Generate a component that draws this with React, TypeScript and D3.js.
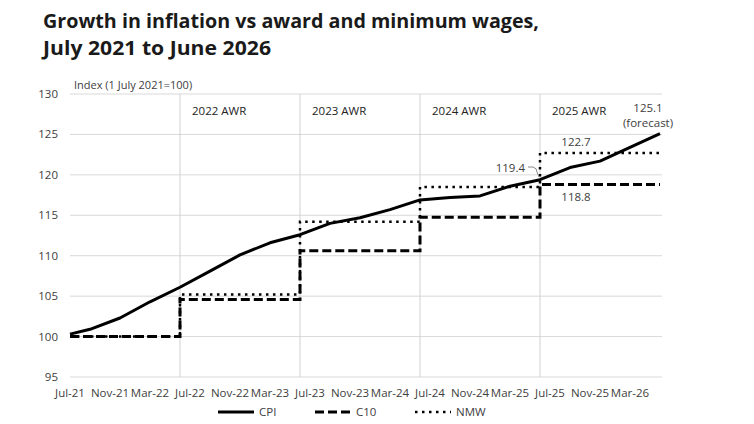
import * as d3 from "d3";

// months are counted from Jul-21 (0) to Jun-26 (59)
const cpiMonths = [0, 2, 5, 8, 11, 14, 17, 20, 23, 26, 29, 32, 35, 38, 41, 44, 47, 50, 53, 56, 59];
const cpiValues = [100.3, 100.9, 102.3, 104.3, 106.1, 108.1, 110.1, 111.6, 112.6, 114.0, 114.7, 115.7, 116.9, 117.2, 117.4, 118.6, 119.4, 120.9, 121.7, 123.4, 125.1];

const stepMonths = [0, 11, 23, 35, 47, 59];
const c10Values = [100, 104.6, 110.6, 114.75, 118.8, 118.8];
const nmwValues = [100, 105.2, 114.2, 118.5, 122.7, 122.7];

const awrMonths = [11, 23, 35, 47];
const awrLabels = ["2022 AWR", "2023 AWR", "2024 AWR", "2025 AWR"];

const tickMonths = [0, 4, 8, 12, 16, 20, 24, 28, 32, 36, 40, 44, 48, 52, 56];
const tickLabels = ["Jul-21", "Nov-21", "Mar-22", "Jul-22", "Nov-22", "Mar-23", "Jul-23", "Nov-23", "Mar-24", "Jul-24", "Nov-24", "Mar-25", "Jul-25", "Nov-25", "Mar-26"];
const yTicks = [95, 100, 105, 110, 115, 120, 125, 130];

const font = "'Open Sans', sans-serif";
const textColor = "#404040";

export default function App() {
  const width = 754;
  const height = 424;
  const x = d3.scaleLinear().domain([0, 59]).range([70, 660]);
  const y = d3.scaleLinear().domain([95, 130]).range([377, 94]);

  const cpiLine = d3
    .line<number>()
    .x((_, i) => x(cpiMonths[i]))
    .y((d) => y(d));

  const stepLine = d3
    .line<number>()
    .x((_, i) => x(stepMonths[i]))
    .y((d) => y(d))
    .curve(d3.curveStepAfter);

  const legend = [
    { label: "CPI", x0: 218, dash: "none" },
    { label: "C10", x0: 315, dash: "9,4" },
    { label: "NMW", x0: 415, dash: "2.5,4.5" },
  ];

  return (
    <svg
      width={width}
      height={height}
      style={{ position: "absolute", left: 0, top: 0, background: "#fff" }}
      fontFamily={font}
    >
      <text x={43} y={28} fontSize={19} fontWeight={700} fill="#1a1a1a" textLength={496} lengthAdjust="spacingAndGlyphs">
        Growth in inflation vs award and minimum wages,
      </text>
      <text x={43} y={55} fontSize={19} fontWeight={700} fill="#1a1a1a" textLength={228} lengthAdjust="spacingAndGlyphs">
        July 2021 to June 2026
      </text>

      <text x={74} y={89} fontSize={11} fill={textColor}>
        Index (1 July 2021=100)
      </text>

      {yTicks.map((t) => (
        <g key={t}>
          <line x1={70} x2={662} y1={y(t)} y2={y(t)} stroke="#d9d9d9" strokeWidth={1} />
          <text x={58} y={y(t)} dy="0.35em" textAnchor="end" fontSize={11.5} fill={textColor}>
            {t}
          </text>
        </g>
      ))}

      {awrMonths.map((m, i) => (
        <g key={m}>
          <line x1={x(m)} x2={x(m)} y1={y(130)} y2={y(95)} stroke="#d0d0d0" strokeWidth={1} />
          <text x={x(m) + 12} y={111} dy="0.35em" fontSize={11.5} fill="#222">
            {awrLabels[i]}
          </text>
        </g>
      ))}

      {tickMonths.map((m, i) => (
        <text key={m} x={x(m)} y={393} dy="0.35em" textAnchor="middle" fontSize={11.5} fill={textColor}>
          {tickLabels[i]}
        </text>
      ))}

      <path d={stepLine(nmwValues) ?? ""} fill="none" stroke="#000" strokeWidth={2.5} strokeDasharray="2.5,4.5" />
      <path d={stepLine(c10Values) ?? ""} fill="none" stroke="#000" strokeWidth={3} strokeDasharray="9,4" />
      <path d={cpiLine(cpiValues) ?? ""} fill="none" stroke="#000" strokeWidth={3} strokeLinejoin="round" />

      <text x={648} y={108} dy="0.35em" textAnchor="middle" fontSize={11.5} fill={textColor}>125.1</text>
      <text x={648} y={123} dy="0.35em" textAnchor="middle" fontSize={11.5} fill={textColor}>(forecast)</text>
      <text x={576} y={142} dy="0.35em" textAnchor="middle" fontSize={11.5} fill={textColor}>122.7</text>
      <text x={525} y={168} dy="0.35em" textAnchor="end" fontSize={11.5} fill={textColor}>119.4</text>
      <text x={576} y={197} dy="0.35em" textAnchor="middle" fontSize={11.5} fill={textColor}>118.8</text>
      <path d="M528,167 L533,167 Q537,168 537,172 L539,177" fill="none" stroke="#888" strokeWidth={1} />

      {legend.map((l) => (
        <g key={l.label}>
          <line
            x1={l.x0}
            x2={l.x0 + 36}
            y1={412}
            y2={412}
            stroke="#000"
            strokeWidth={l.label === "NMW" ? 2.5 : 3}
            strokeDasharray={l.dash}
          />
          <text x={l.x0 + 41} y={412} dy="0.35em" fontSize={11.5} fill={textColor}>
            {l.label}
          </text>
        </g>
      ))}
    </svg>
  );
}
